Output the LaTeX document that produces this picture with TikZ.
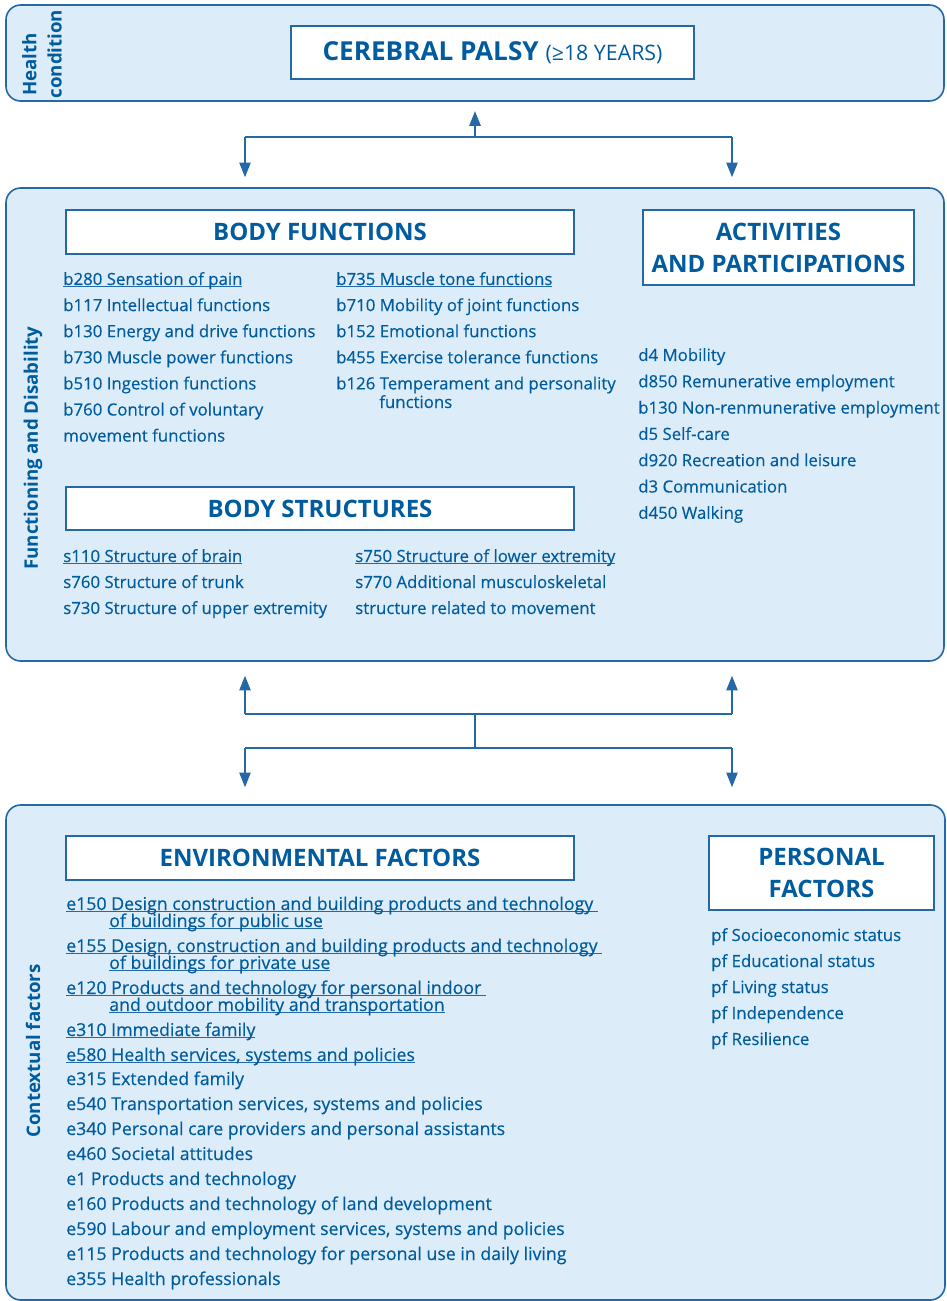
\documentclass[tikz,border=0pt]{standalone}
\usepackage{fontspec}
\setmainfont{Open Sans}
\newfontfamily\entryfont[FakeBold=0.35]{Open Sans}
\usetikzlibrary{positioning, arrows.meta, fit}
\definecolor{icfblue}{RGB}{0,92,158}
\definecolor{icffill}{RGB}{220,236,248}
\definecolor{icfline}{RGB}{36,104,166}
\newcommand{\uln}[1]{\leavevmode\setbox0\hbox{#1}\rlap{\color{icfline}\rule[-1.8pt]{\wd0}{0.7pt}}\box0}

\begin{document}
\begin{tikzpicture}[x=0.75pt, y=-0.75pt,
    panel/.style={draw=icfline, line width=1.2pt, fill=icffill, rounded corners=11pt, inner sep=0pt},
    titlebox/.style={draw=icfline, line width=1pt, fill=white, inner sep=0pt},
    headtext/.style={text=icfblue, font=\bfseries\fontsize{18}{24}\selectfont, align=center},
    sidelabel/.style={rotate=90, text=icfblue, font=\bfseries\fontsize{14}{19}\selectfont, align=center},
    entry/.style={anchor=base west, inner sep=0pt, text=icfblue, font=\entryfont\fontsize{12.6}{14}\selectfont},
    enventry/.style={entry, font=\entryfont\fontsize{13.3}{14}\selectfont},
    link/.style={draw=icfline, line width=1.1pt},
    arr/.style={link, -{Triangle[width=8.5pt, length=11pt]}},
  ]
  \useasboundingbox (0,0) rectangle (946,1301);

  % panels
  \node[panel, fit={(6,5) (944,101)}] (health) {};
  \node[panel, fit={(6,188) (944,661)}] (funct) {};
  \node[panel, fit={(6,805) (945,1300)}] (context) {};

  \node[sidelabel] (healthlbl) at (42,54) {Health\hspace*{16pt}\\condition};
  \node[sidelabel] (functlbl) at (33,448) {Functioning and Disability};
  \node[sidelabel] (contextlbl) at (33,1051) {Contextual factors};

  % headings
  \node[titlebox, fit={(291,26) (694,79)}] (cp) {};
  \node[headtext, font=\bfseries\fontsize{19.6}{24}\selectfont] (cptext) at (cp)
    {CEREBRAL PALSY {\mdseries\fontsize{16}{18}\selectfont(≥18 YEARS)}};
  \node[titlebox, fit={(66,210) (574,254)}] (bf) {};
  \node[headtext] (bftext) at (bf) {BODY FUNCTIONS};
  \node[titlebox, fit={(643,210) (914,285)}] (ap) {};
  \node[headtext] (aptext) at (ap) {ACTIVITIES\\AND PARTICIPATIONS};
  \node[titlebox, fit={(66,487) (574,530)}] (bs) {};
  \node[headtext] (bstext) at (bs) {BODY STRUCTURES};
  \node[titlebox, fit={(66,836) (574,880)}] (ef) {};
  \node[headtext] (eftext) at (ef) {ENVIRONMENTAL FACTORS};
  \node[titlebox, fit={(709,836) (934,910)}] (pf) {};
  \node[headtext] (pftext) at (pf) {PERSONAL\\FACTORS};

  % body functions
  \foreach \t [count=\i from 0] in {\uln{b280 Sensation of pain}, b117 Intellectual functions,
      b130 Energy and drive functions, b730 Muscle power functions, b510 Ingestion functions,
      b760 Control of voluntary, movement functions}
    \node[entry] (bfa\i) at (63,285+26.1*\i) {\t};
  \foreach \t [count=\i from 0] in {\uln{b735 Muscle tone functions}, b710 Mobility of joint functions,
      b152 Emotional functions, b455 Exercise tolerance functions, b126 Temperament and personality}
    \node[entry] (bfb\i) at (336,285+26.1*\i) {\t};
  \node[entry] (bfb4x) at (379,408) {functions};

  % activities and participations
  \foreach \t [count=\i from 0] in {d4 Mobility, d850 Remunerative employment,
      b130 Non-renmunerative employment, d5 Self-care, d920 Recreation and leisure,
      d3 Communication, d450 Walking}
    \node[entry] (act\i) at (638,361+26.3*\i) {\t};

  % body structures
  \foreach \t [count=\i from 0] in {\uln{s110 Structure of brain}, s760 Structure of trunk,
      s730 Structure of upper extremity}
    \node[entry] (bsa\i) at (63,562+26*\i) {\t};
  \foreach \t [count=\i from 0] in {\uln{s750 Structure of lower extremity},
      s770 Additional musculoskeletal, structure related to movement}
    \node[entry] (bsb\i) at (355,562+26*\i) {\t};

  % environmental factors
  \foreach \y/\t [count=\i] in {
      910/\uln{e150 Design construction and building products and technology },
      927/\hspace*{32.25pt}\uln{of buildings for public use},
      952/{\uln{e155 Design, construction and building products and technology }},
      969/\hspace*{32.25pt}\uln{of buildings for private use},
      994/\uln{e120 Products and technology for personal indoor },
      1011/\hspace*{32.25pt}\uln{and outdoor mobility and transportation},
      1036/\uln{e310 Immediate family},
      1061/{\uln{e580 Health services, systems and policies}},
      1085/e315 Extended family,
      1110/{e540 Transportation services, systems and policies},
      1135/e340 Personal care providers and personal assistants,
      1160/e460 Societal attitudes,
      1185/e1 Products and technology,
      1210/e160 Products and technology of land development,
      1235/{e590 Labour and employment services, systems and policies},
      1260/e115 Products and technology for personal use in daily living,
      1285/e355 Health professionals}
    \node[enventry] (env\i) at (66,\y) {\t};

  % personal factors
  \foreach \t [count=\i from 0] in {pf Socioeconomic status, pf Educational status,
      pf Living status, pf Independence, pf Resilience}
    \node[entry] (pers\i) at (711,941+26*\i) {\t};

  % connectors
  \coordinate (ja) at (475,137);
  \coordinate (ja1) at (245,137);
  \coordinate (ja2) at (732,137);
  \draw[link] (ja1) -- (ja2);
  \draw[arr, shorten >=7pt] (ja) -- (ja |- health.south);
  \draw[arr, shorten >=7.5pt] (ja1) -- (ja1 |- funct.north);
  \draw[arr, shorten >=7.5pt] (ja2) -- (ja2 |- funct.north);

  \coordinate (jb) at (475,714);
  \coordinate (jb1) at (245,714);
  \coordinate (jb2) at (732,714);
  \coordinate (jc) at (475,748);
  \coordinate (jc1) at (245,748);
  \coordinate (jc2) at (732,748);
  \draw[link] (jb1) -- (jb2);
  \draw[link] (jc1) -- (jc2);
  \draw[link, line width=2pt] (jb) -- (jc);
  \draw[arr, shorten >=10.5pt] (jb1) -- (jb1 |- funct.south);
  \draw[arr, shorten >=10.5pt] (jb2) -- (jb2 |- funct.south);
  \draw[arr, shorten >=12.75pt] (jc1) -- (jc1 |- context.north);
  \draw[arr, shorten >=12.75pt] (jc2) -- (jc2 |- context.north);
\end{tikzpicture}
\end{document}
